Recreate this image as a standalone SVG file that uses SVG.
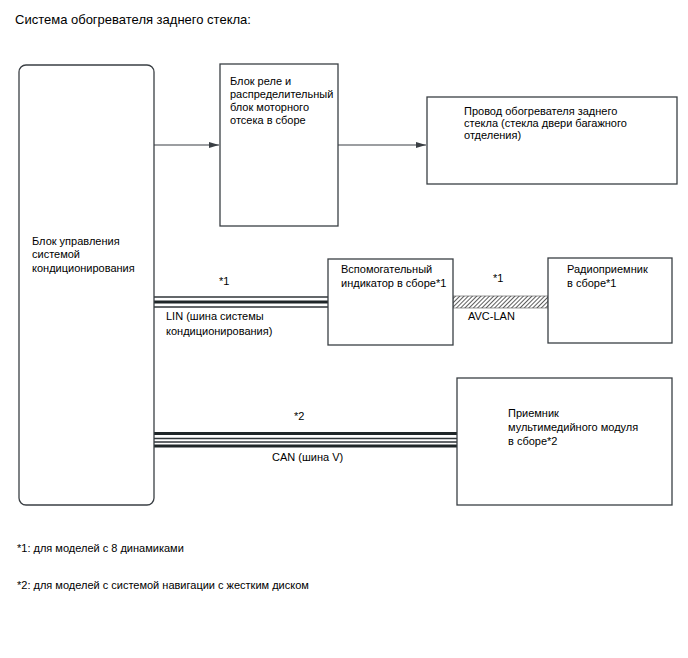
<svg xmlns="http://www.w3.org/2000/svg" width="688" height="658" viewBox="0 0 688 658">
<style>
  text { font-family: "Liberation Sans", Arial, sans-serif; font-size: 11px; fill: #000; }
  .title { font-size: 13px; }
  .note { font-size: 11px; }
  .box { fill: #fff; stroke: #3a3f44; stroke-width: 1.3; }
  .wire { stroke: #3a3f44; stroke-width: 1.2; fill: none; }
  .bthin { stroke: #2f3538; stroke-width: 1.3; fill: none; }
  .bthick { stroke: #1f2628; stroke-width: 3.2; fill: none; }
</style>
<defs>
  <marker id="arr" markerWidth="10" markerHeight="8" refX="10" refY="4" orient="auto" markerUnits="userSpaceOnUse">
    <path d="M0,1 L10,4 L0,7 Z" fill="#3a3f44"/>
  </marker>
  <pattern id="hatch" width="3" height="3" patternUnits="userSpaceOnUse" patternTransform="rotate(45)">
    <rect width="3" height="3" fill="#fff"/>
    <line x1="0" y1="0" x2="0" y2="3" stroke="#333" stroke-width="1.6"/>
  </pattern>
</defs>
<rect width="688" height="658" fill="#fff"/>
<text class="title" x="15" y="24">Система обогревателя заднего стекла:</text>

<g id="connectors">
  <line class="wire" x1="154" y1="145" x2="219" y2="145" marker-end="url(#arr)"/>
  <line class="wire" x1="338" y1="145" x2="426" y2="145" marker-end="url(#arr)"/>
  <line class="bthin" x1="154" y1="297" x2="328" y2="297"/>
  <line class="bthick" x1="154" y1="302" x2="328" y2="302"/>
  <line class="bthin" x1="154" y1="307" x2="328" y2="307"/>
  <rect x="453" y="296" width="95" height="12" fill="url(#hatch)" stroke="#555" stroke-width="0.6"/>
  <line class="bthick" x1="154" y1="433.5" x2="457" y2="433.5"/>
  <line class="bthin" x1="154" y1="438.5" x2="457" y2="438.5"/>
  <line class="bthin" x1="154" y1="442" x2="457" y2="442"/>
  <line class="bthick" x1="154" y1="446" x2="457" y2="446"/>
  <text x="219" y="285">*1</text>
  <text x="166" y="320">LIN (шина системы</text>
  <text x="166" y="335">кондиционирования)</text>
  <text x="493" y="282">*1</text>
  <text x="468" y="320">AVC-LAN</text>
  <text x="294" y="420">*2</text>
  <text x="272" y="461">CAN (шина V)</text>
</g>

<g id="ac-ecu">
  <rect class="box" x="19" y="65" width="135" height="440" rx="7"/>
  <text x="32" y="245">Блок управления</text>
  <text x="32" y="258">системой</text>
  <text x="32" y="272">кондиционирования</text>
</g>

<g id="relay-block">
  <rect class="box" x="220" y="64" width="118" height="162"/>
  <text x="230" y="85">Блок реле и</text>
  <text x="230" y="98">распределительный</text>
  <text x="230" y="111">блок моторного</text>
  <text x="230" y="124">отсека в сборе</text>
</g>

<g id="heater-wire">
  <rect class="box" x="427" y="97" width="250" height="87"/>
  <text x="464" y="115">Провод обогревателя заднего</text>
  <text x="464" y="127">стекла (стекла двери багажного</text>
  <text x="464" y="139">отделения)</text>
</g>

<g id="aux-indicator">
  <rect class="box" x="328" y="259" width="125" height="86"/>
  <text x="341" y="273">Вспомогательный</text>
  <text x="341" y="287">индикатор в сборе*1</text>
</g>

<g id="radio">
  <rect class="box" x="548" y="258" width="124" height="85"/>
  <text x="567" y="273">Радиоприемник</text>
  <text x="567" y="287">в сборе*1</text>
</g>

<g id="multimedia">
  <rect class="box" x="457" y="378" width="215" height="127"/>
  <text x="508" y="417">Приемник</text>
  <text x="508" y="431">мультимедийного модуля</text>
  <text x="508" y="445">в сборе*2</text>
</g>

<text class="note" x="17" y="552">*1: для моделей с 8 динамиками</text>
<text class="note" x="17" y="589">*2: для моделей с системой навигации с жестким диском</text>
</svg>
